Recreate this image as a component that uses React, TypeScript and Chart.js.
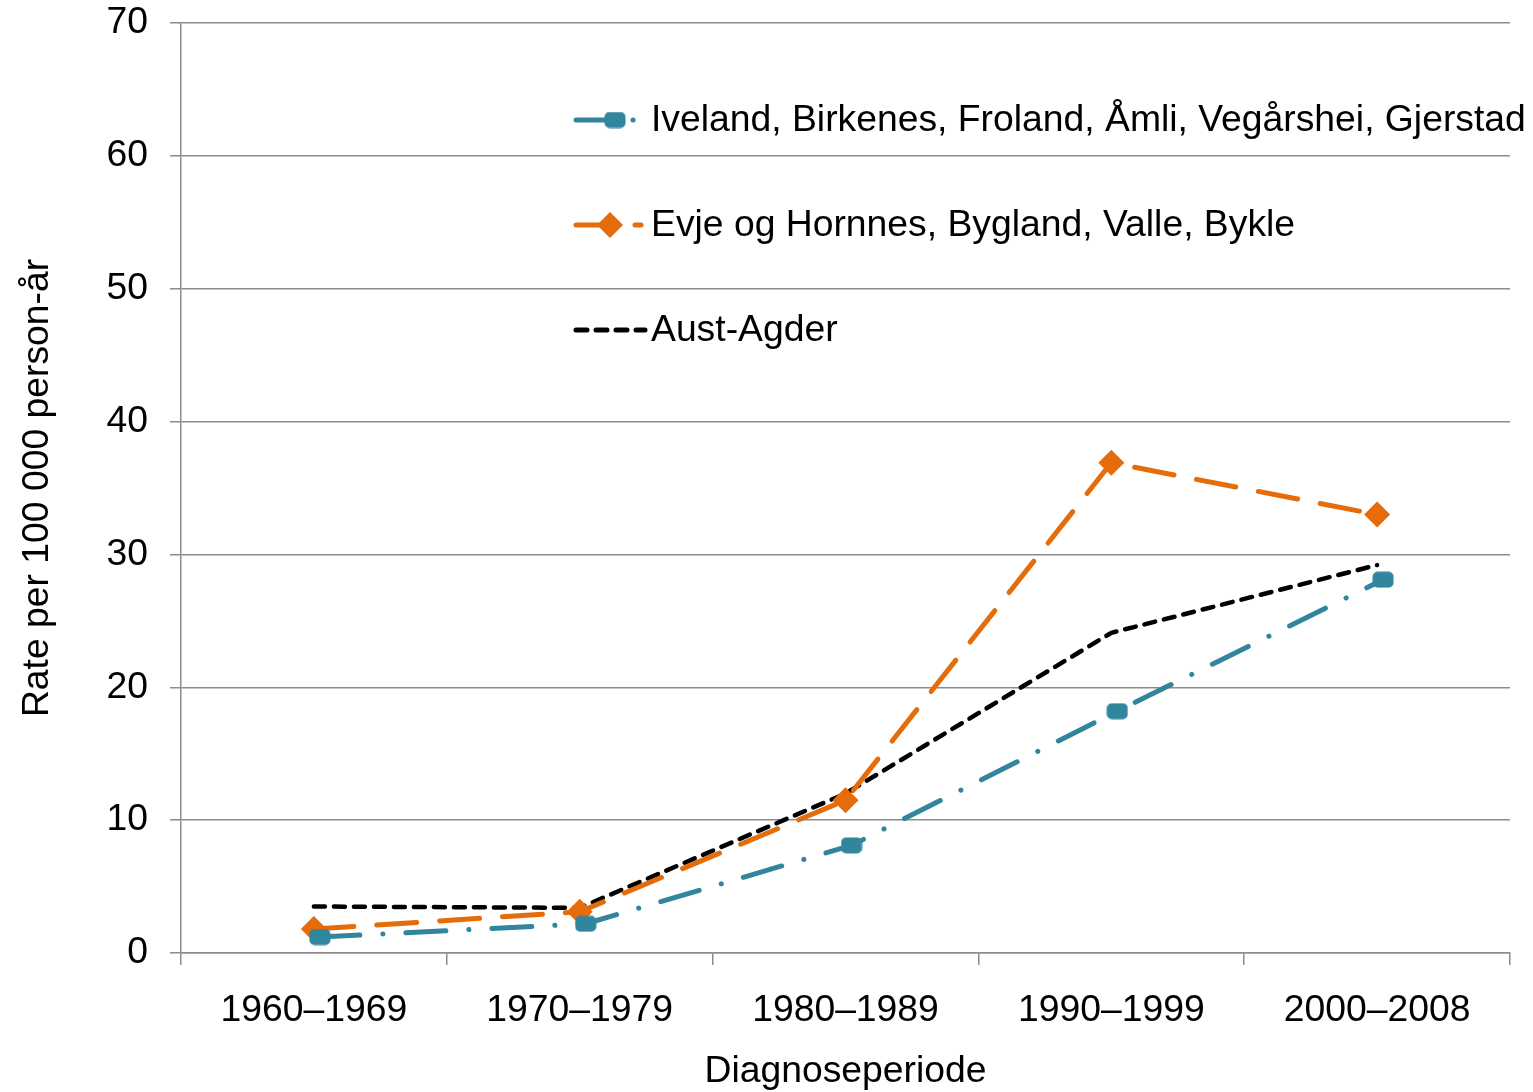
import React, { useEffect, useRef } from 'react';
import { Chart, registerables } from 'chart.js';

Chart.register(...registerables);

const categories = ['1960–1969', '1970–1979', '1980–1989', '1990–1999', '2000–2008'];
const ivelandValues = [1.2, 2.2, 8.1, 18.2, 28.1];
const evjeValues = [1.8, 3.1, 11.5, 36.9, 33.0];
const austAgderValues = [3.5, 3.4, 12.0, 24.1, 29.2];
const seriesNames = [
  'Iveland, Birkenes, Froland, Åmli, Vegårshei, Gjerstad',
  'Evje og Hornnes, Bygland, Valle, Bykle',
  'Aust-Agder',
];
const yMin = 0;
const yMax = 70;
const yStep = 10;
const xTitle = 'Diagnoseperiode';
const yTitle = 'Rate per 100 000 person-år';

const TEAL = '#31859C';
const ORANGE = '#E46C0A';
const BLACK = '#000000';
const GRID = '#8C8C8C';
const FONT = "'Liberation Sans', Arial, sans-serif";
const FS = 37.3;

function makeRoundRect(): HTMLCanvasElement {
  const c = document.createElement('canvas');
  c.width = 22;
  c.height = 17;
  const ctx = c.getContext('2d')!;
  ctx.fillStyle = TEAL;
  ctx.beginPath();
  (ctx as any).roundRect(0.5, 0.5, 21, 16, 5);
  ctx.fill();
  return c;
}

const App: React.FC = () => {
  const ref = useRef<HTMLCanvasElement | null>(null);

  useEffect(() => {
    if (!ref.current) return;
    const tealMarker = makeRoundRect();

    // The first series is drawn slightly to the right of the category centre, as in the original.
    const shiftPlugin = {
      id: 'shiftFirst',
      beforeDatasetDraw(chart: any, args: any) {
        if (args.index === 0) {
          chart.ctx.save();
          chart.ctx.translate(6, 0);
        }
      },
      afterDatasetDraw(chart: any, args: any) {
        if (args.index === 0) chart.ctx.restore();
      },
    };

    const legendPlugin = {
      id: 'customLegend',
      afterDraw(chart: any) {
        const ctx = chart.ctx as CanvasRenderingContext2D;
        const x0 = 574;
        const x1 = 645;
        const ys = [120, 225, 330];
        ctx.save();
        ctx.lineWidth = 5;
        ctx.lineCap = 'round';
        ctx.strokeStyle = TEAL;
        ctx.setLineDash([34, 23, 0.1, 23]);
        ctx.beginPath();
        ctx.moveTo(x0 + 2, ys[0]);
        ctx.lineTo(x1 - 4, ys[0]);
        ctx.stroke();
        ctx.drawImage(tealMarker, 615 - 11, ys[0] - 8.5);
        ctx.strokeStyle = ORANGE;
        ctx.setLineDash([36, 23]);
        ctx.beginPath();
        ctx.moveTo(x0 + 2, ys[1]);
        ctx.lineTo(x1 - 4, ys[1]);
        ctx.stroke();
        ctx.setLineDash([]);
        ctx.fillStyle = ORANGE;
        ctx.beginPath();
        const cx = 610, cy = ys[1], r = 13;
        ctx.moveTo(cx - r, cy);
        ctx.lineTo(cx, cy - r);
        ctx.lineTo(cx + r, cy);
        ctx.lineTo(cx, cy + r);
        ctx.closePath();
        ctx.fill();
        ctx.strokeStyle = BLACK;
        ctx.setLineDash([11, 9]);
        ctx.beginPath();
        ctx.moveTo(x0 + 2, ys[2]);
        ctx.lineTo(x1, ys[2]);
        ctx.stroke();
        ctx.setLineDash([]);
        ctx.fillStyle = '#000';
        ctx.font = `${FS}px ${FONT}`;
        ctx.textBaseline = 'middle';
        ctx.textAlign = 'left';
        seriesNames.forEach((n, i) => ctx.fillText(n, 651, ys[i] + 1));
        ctx.restore();
      },
    };

    const chart = new Chart(ref.current, {
      type: 'line',
      data: {
        labels: categories,
        datasets: [
          {
            label: seriesNames[0],
            data: ivelandValues,
            borderColor: TEAL,
            backgroundColor: TEAL,
            borderWidth: 5,
            borderDash: [40, 23, 0.1, 23],
            borderCapStyle: 'round',
            borderJoinStyle: 'round',
            pointStyle: tealMarker as any,
            pointRadius: 11,
            tension: 0,
          },
          {
            label: seriesNames[1],
            data: evjeValues,
            borderColor: ORANGE,
            backgroundColor: ORANGE,
            borderWidth: 5,
            borderDash: [40, 23],
            borderCapStyle: 'round',
            borderJoinStyle: 'round',
            pointStyle: 'rectRot',
            pointRadius: 13,
            pointBorderWidth: 0,
            tension: 0,
          },
          {
            label: seriesNames[2],
            data: austAgderValues,
            borderColor: BLACK,
            borderWidth: 4.5,
            borderDash: [11, 9],
            borderCapStyle: 'round',
            borderJoinStyle: 'round',
            pointRadius: 0,
            tension: 0,
          },
        ],
      },
      options: {
        responsive: false,
        animation: false,
        devicePixelRatio: 1,
        layout: { padding: { top: 23, right: 23, left: 0, bottom: 0 } },
        plugins: {
          legend: { display: false },
          tooltip: { enabled: false },
        },
        scales: {
          x: {
            type: 'category',
            offset: true,
            grid: {
              offset: true,
              drawOnChartArea: false,
              drawTicks: true,
              tickLength: 12,
              color: GRID,
              lineWidth: 1.5,
            },
            border: { display: true, color: GRID, width: 1.5 },
            ticks: {
              color: '#000',
              font: { family: FONT, size: FS },
              padding: 23,
              maxRotation: 0,
              autoSkip: false,
            },
            title: {
              display: true,
              text: xTitle,
              color: '#000',
              font: { family: FONT, size: FS },
              padding: { top: 0, bottom: -2 },
            },
            afterFit(scale: any) {
              scale.height = 139;
              scale.paddingLeft = 0;
              scale.paddingRight = 0;
            },
          },
          y: {
            min: yMin,
            max: yMax,
            ticks: {
              stepSize: yStep,
              color: '#000',
              font: { family: FONT, size: FS },
              padding: 22,
            },
            grid: {
              color: GRID,
              lineWidth: 1.5,
              tickLength: 11,
            },
            border: { display: true, color: GRID, width: 1.5 },
            title: {
              display: true,
              text: yTitle,
              color: '#000',
              font: { family: FONT, size: FS },
              padding: { top: 15, bottom: 0 },
            },
            afterFit(scale: any) {
              scale.width = 181;
              scale.paddingTop = 0;
              scale.paddingBottom = 0;
            },
          },
        },
      } as any,
      plugins: [shiftPlugin, legendPlugin],
    });
    return () => chart.destroy();
  }, []);

  return (
    <div style={{ position: 'absolute', left: 0, top: 0, width: 1533, height: 1092, background: '#fff' }}>
      <canvas ref={ref} width={1533} height={1092} style={{ width: 1533, height: 1092, display: 'block' }} />
    </div>
  );
};

export default App;
